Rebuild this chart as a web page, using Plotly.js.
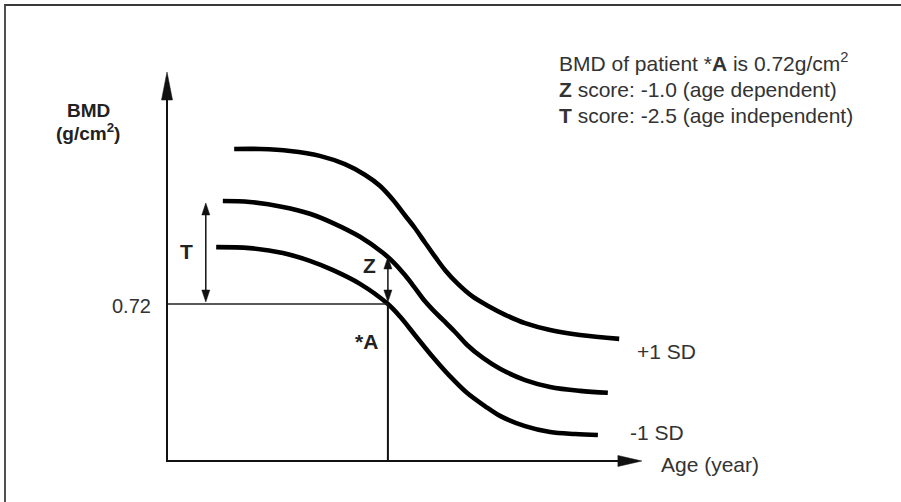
<!DOCTYPE html>
<html><head><meta charset="utf-8">
<script src="https://cdn.plot.ly/plotly-3.0.1.min.js"></script>
<style>
html,body{margin:0;padding:0;background:#fff;}
#wrap{position:relative;width:901px;height:502px;overflow:hidden;}
#chart{position:absolute;left:0;top:0;width:901px;height:502px;}
#frame{position:absolute;left:4px;top:4px;width:920px;height:520px;border-top:2px solid #3a3a3a;border-left:2px solid #505050;pointer-events:none;}
</style></head>
<body><div id="wrap"><div id="chart"></div><div id="frame"></div></div>
<script>
// ---------- data ----------
const upperAge = [14.2, 19.7, 26.0, 32.3, 37.6, 41.9, 45.0, 47.8, 50.3, 52.4, 54.5, 56.7, 58.8, 61.5, 64.5, 67.9, 71.5, 75.7, 81.0, 87.3, 95.6];
const upperBmd = [1.036, 1.036, 1.032, 1.022, 1.005, 0.983, 0.961, 0.932, 0.901, 0.875, 0.846, 0.816, 0.789, 0.761, 0.736, 0.716, 0.698, 0.681, 0.667, 0.657, 0.649];
const meanAge  = [11.8, 17.5, 24.5, 30.2, 35.1, 40.8, 45.7, 48.2, 50.3, 52.4, 54.5, 56.2, 58.4, 60.9, 63.4, 66.8, 70.4, 75.7, 81.0, 87.3, 93.2];
const meanBmd  = [0.930, 0.928, 0.918, 0.904, 0.885, 0.857, 0.824, 0.802, 0.779, 0.753, 0.726, 0.708, 0.687, 0.663, 0.637, 0.610, 0.588, 0.565, 0.551, 0.543, 0.539];
const lowerAge = [10.4, 17.5, 24.5, 30.2, 35.1, 40.8, 46.7, 49.3, 52.4, 56.2, 59.8, 63.4, 67.2, 70.4, 75.7, 81.0, 86.3, 91.1];
const lowerBmd = [0.836, 0.834, 0.824, 0.808, 0.789, 0.761, 0.720, 0.694, 0.657, 0.612, 0.573, 0.539, 0.512, 0.492, 0.471, 0.459, 0.455, 0.453];

const upperLabel = '+1 SD';
const lowerLabel = '-1 SD';
const patientLabel = '*A';
const patientAge = 46.7;
const patientBmd = 0.72;
const patientBmdText = '0.72';
const youngMeanBmd = 0.926;     // T-score reference (young adult mean)
const ageMatchedBmd = 0.816;    // Z-score reference (age-matched mean)
const tRefAge = 8.2;
const axisOrigin = [0, 0.4];
const axisEndAge = 100.4;
const axisTopBmd = 1.193;

const infoLines = [
  'BMD of patient *<b>A</b> is 0.72g/cm<sup>2</sup>',
  '<b>Z</b> score: -1.0 (age dependent)',
  '<b>T</b> score: -2.5 (age independent)'
];
const yTitleLines = ['<b>BMD</b>', '<b>(g/cm<sup>2</sup>)</b>'];
const xTitle = 'Age (year)';

// ---------- layout helpers ----------
const W = 901, H = 502;
const X_RANGE = [-35.31, 155.18];
const Y_RANGE = [0.3164, 1.3398];
const dx = (X_RANGE[1] - X_RANGE[0]) / W;
const dy = (Y_RANGE[1] - Y_RANGE[0]) / H;
const px = v => v / W;
const py = v => 1 - v / H;
const FONT = 'Liberation Sans, Arial, Helvetica, sans-serif';
const ink = '#111';
const textCol = '#333';

const curveStyle = {color: '#000', width: 4.6, shape: 'spline', smoothing: 1};
const traces = [
  {x: upperAge, y: upperBmd, mode: 'lines', line: curveStyle, hoverinfo: 'skip'},
  {x: meanAge,  y: meanBmd,  mode: 'lines', line: curveStyle, hoverinfo: 'skip'},
  {x: lowerAge, y: lowerBmd, mode: 'lines', line: curveStyle, hoverinfo: 'skip'},
  {x: [axisOrigin[0], patientAge], y: [patientBmd, patientBmd], mode: 'lines', line: {color: '#222', width: 1.5}, hoverinfo: 'skip'},
  {x: [patientAge, patientAge], y: [axisOrigin[1], patientBmd], mode: 'lines', line: {color: '#111', width: 2}, hoverinfo: 'skip'}
];

const shapes = [];
function seg(x0, y0, x1, y1, w) {
  shapes.push({type: 'line', xref: 'x', yref: 'y', x0, y0, x1, y1, line: {color: ink, width: w}});
}
function head(xa, ya, path) {
  shapes.push({type: 'path', xref: 'x', yref: 'y', xsizemode: 'pixel', ysizemode: 'pixel',
    xanchor: xa, yanchor: ya, path, fillcolor: ink, line: {color: ink, width: 0.5}});
}
// axes
seg(axisOrigin[0], axisOrigin[1] - dy, axisOrigin[0], axisTopBmd - 20 * dy, 2);
head(axisOrigin[0], axisTopBmd, 'M0,0L-5.5,-28L5.5,-28Z');
seg(axisOrigin[0] - dx, axisOrigin[1], axisEndAge - 18 * dx, axisOrigin[1], 2);
head(axisEndAge, axisOrigin[1], 'M0,0L-24,5.5L-24,-5.5Z');
// T arrow
seg(tRefAge, patientBmd + 10 * dy, tRefAge, youngMeanBmd - 8 * dy, 1.5);
head(tRefAge, youngMeanBmd, 'M0,0L-4,-12L4,-12Z');
head(tRefAge, patientBmd, 'M0,2L-4,14L4,14Z');
// Z arrow
seg(patientAge, patientBmd + 10 * dy, patientAge, ageMatchedBmd - 8 * dy, 1.5);
head(patientAge, ageMatchedBmd, 'M0,0L-4,-12L4,-12Z');
head(patientAge, patientBmd, 'M0,2L-4,14L4,14Z');

const ann = [];
function A(o) { ann.push(Object.assign({showarrow: false, font: {family: FONT, size: 21, color: textCol}}, o)); }
// info text
const infoY = [62, 89, 115];
infoLines.forEach((t, i) => A({xref: 'paper', yref: 'paper', x: px(557), y: py(infoY[i]), xanchor: 'left', yanchor: 'middle', text: t}));
// y title
A({xref: 'paper', yref: 'paper', x: px(88), y: py(110), xanchor: 'center', yanchor: 'middle', text: yTitleLines[0], font: {family: FONT, size: 19, color: '#222'}});
A({xref: 'paper', yref: 'paper', x: px(88), y: py(132), xanchor: 'center', yanchor: 'middle', text: yTitleLines[1], font: {family: FONT, size: 19, color: '#222'}});
// x title
A({x: axisEndAge, y: axisOrigin[1], xanchor: 'left', yanchor: 'middle', xshift: 17, yshift: -4, text: xTitle});
// 0.72 tick
A({x: axisOrigin[0], y: patientBmd, xanchor: 'right', yanchor: 'middle', xshift: -14, yshift: -2, text: patientBmdText, font: {family: FONT, size: 20, color: textCol}});
// curve labels
A({x: upperAge[upperAge.length - 1], y: upperBmd[upperBmd.length - 1], xanchor: 'left', yanchor: 'middle', xshift: 16, yshift: -13, text: upperLabel});
A({x: lowerAge[lowerAge.length - 1], y: lowerBmd[lowerBmd.length - 1], xanchor: 'left', yanchor: 'middle', xshift: 30, yshift: 2, text: lowerLabel});
// bold labels
const boldFont = {family: FONT, size: 21, color: '#222'};
A({x: tRefAge, y: (patientBmd + youngMeanBmd) / 2, xanchor: 'center', yanchor: 'middle', xshift: -19, yshift: 2, text: '<b>T</b>', font: boldFont});
A({x: patientAge, y: (patientBmd + ageMatchedBmd) / 2, xanchor: 'center', yanchor: 'middle', xshift: -18, yshift: 15, text: '<b>Z</b>', font: boldFont});
A({x: patientAge, y: patientBmd, xanchor: 'center', yanchor: 'middle', xshift: -21, yshift: -37, text: '<b>' + patientLabel + '</b>', font: boldFont});

const axisCommon = {visible: false, fixedrange: true, showgrid: false, zeroline: false};
const layout = {
  width: W, height: H,
  margin: {l: 0, r: 0, t: 0, b: 0, pad: 0},
  paper_bgcolor: '#fff', plot_bgcolor: '#fff',
  showlegend: false,
  xaxis: Object.assign({range: X_RANGE}, axisCommon),
  yaxis: Object.assign({range: Y_RANGE}, axisCommon),
  shapes, annotations: ann,
  font: {family: FONT}
};
Plotly.newPlot('chart', traces, layout, {staticPlot: true, displayModeBar: false});
</script>
</body></html>
